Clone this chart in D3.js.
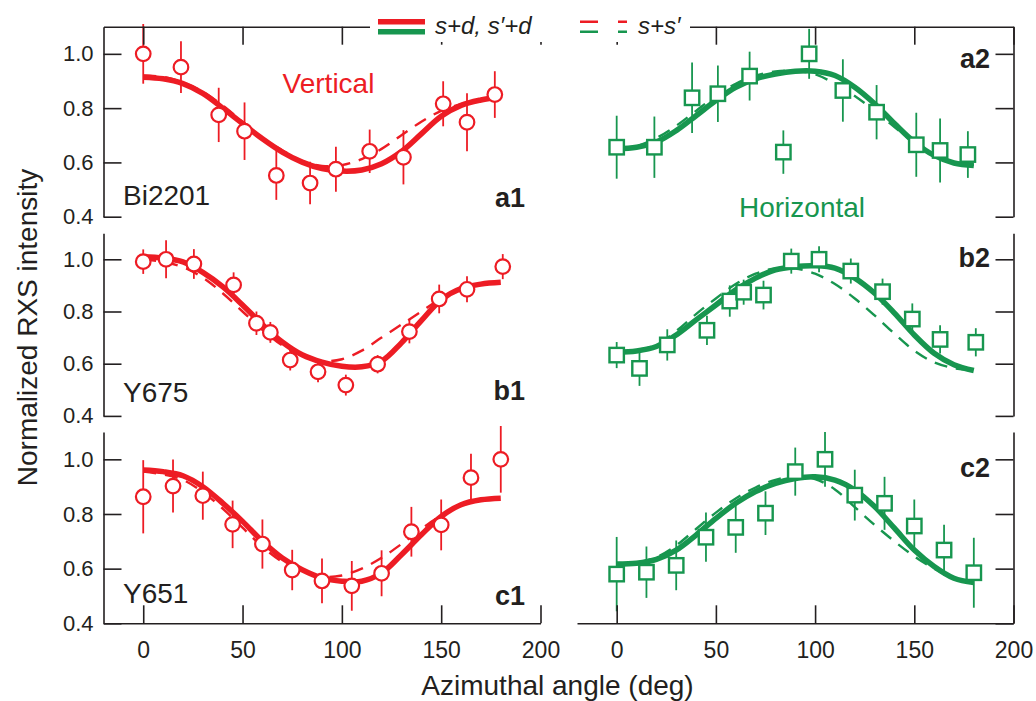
<!DOCTYPE html>
<html>
<head>
<meta charset="utf-8">
<script src="https://cdn.jsdelivr.net/npm/d3@7"></script>
<style>
  body { margin: 0; background: #fff; }
  svg { font-family: "Liberation Sans", Arial, sans-serif; }
</style>
</head>
<body>
<div id="chart"></div>
<script>
const width = 1036, height = 701;
const red = "#ed1c24", green = "#17964f", ink = "#231f20";

// measured points (angle in deg, normalized intensity, error)
const aAngles = [0, 19, 38, 51, 67, 84, 97, 114, 131, 151, 163, 177];
const a1Vals = [1.00, 0.951, 0.775, 0.715, 0.552, 0.524, 0.575, 0.641, 0.619, 0.816, 0.748, 0.850];
const a1Errs = [0.11, 0.095, 0.10, 0.106, 0.09, 0.078, 0.083, 0.08, 0.10, 0.083, 0.107, 0.086];
const a2Vals = [0.656, 0.656, 0.838, 0.853, 0.918, 0.638, 1.00, 0.865, 0.785, 0.665, 0.644, 0.629];
const a2Errs = [0.116, 0.113, 0.13, 0.104, 0.09, 0.08, 0.092, 0.115, 0.10, 0.118, 0.118, 0.086];

const bAngles = [0, 11.5, 25.5, 45.5, 57, 64, 74, 88, 102, 118, 134, 149, 163, 181];
const b1Vals = [0.991, 1.00, 0.982, 0.902, 0.755, 0.72, 0.614, 0.569, 0.518, 0.598, 0.723, 0.848, 0.885, 0.972];
const b1Errs = [0.047, 0.073, 0.057, 0.048, 0.045, 0.04, 0.04, 0.04, 0.04, 0.035, 0.045, 0.055, 0.05, 0.048];
const b2Vals = [0.633, 0.582, 0.672, 0.728, 0.84, 0.874, 0.863, 0.993, 1.00, 0.955, 0.876, 0.771, 0.693, 0.682];
const b2Errs = [0.05, 0.067, 0.06, 0.056, 0.06, 0.048, 0.055, 0.048, 0.05, 0.048, 0.05, 0.06, 0.054, 0.054];

const cAngles = [0, 15, 30, 45, 60, 75, 90, 105, 120, 135, 150, 165, 180];
const c1Vals = [0.863, 0.902, 0.867, 0.762, 0.69, 0.595, 0.555, 0.537, 0.583, 0.735, 0.76, 0.933, 1.00];
const c1Errs = [0.134, 0.097, 0.088, 0.087, 0.09, 0.074, 0.082, 0.091, 0.084, 0.091, 0.093, 0.087, 0.122];
const c2Vals = [0.58, 0.587, 0.612, 0.715, 0.751, 0.803, 0.955, 1.00, 0.869, 0.839, 0.756, 0.668, 0.585];
const c2Errs = [0.136, 0.094, 0.091, 0.09, 0.093, 0.08, 0.088, 0.10, 0.093, 0.097, 0.097, 0.093, 0.128];

// fit curves (s+d solid, s+s' dashed), read every 10 deg
const fitAngles = [0, 10, 20, 30, 40, 50, 60, 70, 80, 90, 100, 110, 120, 130, 140, 150, 160, 170, 180];
const a1Solid = [0.914, 0.908, 0.89, 0.854, 0.80, 0.743, 0.687, 0.638, 0.601, 0.577, 0.568, 0.572, 0.595, 0.64, 0.705, 0.77, 0.81, 0.83, 0.842];
const a1Dash = [0.92, 0.915, 0.895, 0.86, 0.81, 0.75, 0.69, 0.645, 0.605, 0.587, 0.59, 0.612, 0.65, 0.70, 0.75, 0.79, 0.815, 0.83, 0.84];
const a2Solid = [0.65, 0.656, 0.675, 0.717, 0.772, 0.828, 0.877, 0.908, 0.926, 0.936, 0.936, 0.92, 0.877, 0.816, 0.743, 0.675, 0.626, 0.598, 0.589];
const a2Dash = [0.65, 0.66, 0.69, 0.735, 0.79, 0.845, 0.89, 0.92, 0.935, 0.937, 0.925, 0.89, 0.845, 0.79, 0.73, 0.672, 0.627, 0.60, 0.59];
const b1Solid = [1.01, 1.005, 0.99, 0.95, 0.895, 0.825, 0.75, 0.683, 0.634, 0.606, 0.59, 0.588, 0.61, 0.68, 0.765, 0.845, 0.888, 0.905, 0.912];
const b1Dash = [1.0, 0.99, 0.97, 0.93, 0.87, 0.80, 0.73, 0.67, 0.63, 0.61, 0.617, 0.65, 0.70, 0.75, 0.80, 0.85, 0.885, 0.905, 0.912];
const b2Solid = [0.644, 0.649, 0.666, 0.71, 0.768, 0.825, 0.883, 0.928, 0.96, 0.972, 0.975, 0.966, 0.928, 0.87, 0.794, 0.71, 0.64, 0.596, 0.574];
const b2Dash = [0.645, 0.652, 0.672, 0.725, 0.79, 0.85, 0.905, 0.945, 0.965, 0.965, 0.945, 0.905, 0.85, 0.785, 0.715, 0.65, 0.605, 0.583, 0.575];
const c1Solid = [0.961, 0.955, 0.94, 0.90, 0.84, 0.773, 0.70, 0.639, 0.596, 0.566, 0.554, 0.554, 0.584, 0.651, 0.724, 0.791, 0.834, 0.852, 0.858];
const c1Dash = [0.955, 0.945, 0.925, 0.88, 0.82, 0.75, 0.68, 0.625, 0.59, 0.57, 0.575, 0.60, 0.64, 0.69, 0.745, 0.795, 0.83, 0.85, 0.856];
const c2Solid = [0.617, 0.62, 0.634, 0.668, 0.723, 0.784, 0.839, 0.882, 0.912, 0.93, 0.936, 0.924, 0.888, 0.827, 0.748, 0.668, 0.608, 0.565, 0.549];
const c2Dash = [0.618, 0.622, 0.642, 0.685, 0.745, 0.805, 0.857, 0.897, 0.925, 0.938, 0.928, 0.89, 0.825, 0.76, 0.70, 0.645, 0.60, 0.565, 0.55];

const yTicks = [0.4, 0.6, 0.8, 1.0];
const xTicks = [0, 50, 100, 150, 200];
const sampleNames = ["Bi2201", "Y675", "Y651"];
const panelNames = [["a1", "a2"], ["b1", "b2"], ["c1", "c2"]];

const svg = d3.select("#chart")
    .append("svg")
    .attr("width", width)
    .attr("height", height);

const xLeft = d3.scaleLinear().domain([-20, 200]).range([103.5, 540.5]);
const xRight = d3.scaleLinear().domain([-20, 200]).range([577, 1013.5]);

// vertical extent of each row, plus label offsets
const rows = [
    { top: 26.7, bottom: 216.7, angles: aAngles, nameDy: -12, leftDy: -10, rightDy: 14.5,
      left: [a1Vals, a1Errs, a1Solid, a1Dash], right: [a2Vals, a2Errs, a2Solid, a2Dash] },
    { top: 233.2, bottom: 415.9, angles: bAngles, nameDy: -14, leftDy: -16, rightDy: 7.5,
      left: [b1Vals, b1Errs, b1Solid, b1Dash], right: [b2Vals, b2Errs, b2Solid, b2Dash] },
    { top: 432, bottom: 623.3, angles: cAngles, nameDy: -20.5, leftDy: -18.5, rightDy: 17.5,
      left: [c1Vals, c1Errs, c1Solid, c1Dash], right: [c2Vals, c2Errs, c2Solid, c2Dash] }
];

function styleAxis(g) {
    g.select(".domain").attr("stroke", ink).attr("stroke-width", 1.6);
    g.selectAll(".tick line").attr("stroke", ink).attr("stroke-width", 1.6);
    g.selectAll(".tick text").attr("fill", ink);
}

function drawSeries(x, y, angles, [vals, errs, solid, dashed], color, square) {
    const g = svg.append("g");
    const line = d3.line()
        .x((d, i) => x(fitAngles[i]))
        .y(d => y(d))
        .curve(d3.curveCatmullRom);

    // error bars
    g.selectAll("line.err")
        .data(vals)
        .enter()
        .append("line")
        .attr("x1", (d, i) => x(angles[i]))
        .attr("x2", (d, i) => x(angles[i]))
        .attr("y1", (d, i) => y(d - errs[i]))
        .attr("y2", (d, i) => y(d + errs[i]))
        .attr("stroke", color)
        .attr("stroke-width", 1.8);

    // fits
    g.append("path")
        .attr("d", line(dashed))
        .attr("fill", "none")
        .attr("stroke", color)
        .attr("stroke-width", 2.4)
        .attr("stroke-dasharray", "13,9");
    g.append("path")
        .attr("d", line(solid))
        .attr("fill", "none")
        .attr("stroke", color)
        .attr("stroke-width", 5.5);

    // markers
    if (square) {
        g.selectAll("rect")
            .data(vals)
            .enter()
            .append("rect")
            .attr("x", (d, i) => x(angles[i]) - 7.2)
            .attr("y", d => y(d) - 7.2)
            .attr("width", 14.4)
            .attr("height", 14.4)
            .attr("fill", "white")
            .attr("stroke", color)
            .attr("stroke-width", 2.4);
    } else {
        g.selectAll("circle")
            .data(vals)
            .enter()
            .append("circle")
            .attr("cx", (d, i) => x(angles[i]))
            .attr("cy", d => y(d))
            .attr("r", 7.3)
            .attr("fill", "white")
            .attr("stroke", color)
            .attr("stroke-width", 2.2);
    }
}

rows.forEach((row, r) => {
    const y = d3.scaleLinear().domain([0.4, 1.1]).range([row.bottom, row.top]);

    // left y axis with labels
    svg.append("g")
        .attr("transform", `translate(${xLeft(-20)},0)`)
        .call(d3.axisLeft(y).tickValues(yTicks).tickSizeInner(-18).tickSizeOuter(0)
            .tickPadding(10).tickFormat(d3.format(".1f")))
        .attr("font-size", 22)
        .attr("font-family", null)
        .call(styleAxis);

    // right y axis, ticks only
    svg.append("g")
        .attr("transform", `translate(${xRight(200)},0)`)
        .call(d3.axisRight(y).tickValues(yTicks).tickSizeInner(-18).tickSizeOuter(0).tickFormat(""))
        .call(styleAxis);

    drawSeries(xLeft, y, row.angles, row.left, red, false);
    drawSeries(xRight, y, row.angles, row.right, green, true);

    // sample name and panel labels
    svg.append("text")
        .attr("x", 123)
        .attr("y", y(0.4) + row.nameDy)
        .attr("font-size", 28)
        .attr("fill", ink)
        .text(sampleNames[r]);
    svg.append("text")
        .attr("x", 525)
        .attr("y", y(0.4) + row.leftDy)
        .attr("text-anchor", "end")
        .attr("font-size", 27)
        .attr("font-weight", "bold")
        .attr("fill", ink)
        .text(panelNames[r][0]);
    svg.append("text")
        .attr("x", 990)
        .attr("y", y(1.0) + row.rightDy)
        .attr("text-anchor", "end")
        .attr("font-size", 27)
        .attr("font-weight", "bold")
        .attr("fill", ink)
        .text(panelNames[r][1]);

    // top axes on the first row
    if (r === 0) {
        [xLeft, xRight].forEach(x => {
            svg.append("g")
                .attr("transform", `translate(0,${row.top})`)
                .call(d3.axisTop(x).tickValues(xTicks).tickSizeInner(-18).tickSizeOuter(0).tickFormat(""))
                .call(styleAxis);
        });
        svg.append("text")
            .attr("x", 328.5)
            .attr("y", 93)
            .attr("text-anchor", "middle")
            .attr("font-size", 28)
            .attr("fill", red)
            .text("Vertical");
        svg.append("text")
            .attr("x", 802)
            .attr("y", 216.5)
            .attr("text-anchor", "middle")
            .attr("font-size", 28)
            .attr("fill", green)
            .text("Horizontal");
    }

    // bottom axes on the last row
    if (r === rows.length - 1) {
        [xLeft, xRight].forEach(x => {
            svg.append("g")
                .attr("transform", `translate(0,${row.bottom})`)
                .call(d3.axisBottom(x).tickValues(xTicks).tickSizeInner(-18).tickSizeOuter(0).tickPadding(18))
                .attr("font-size", 23)
                .attr("font-family", null)
                .call(styleAxis);
        });
    }
});

// axis titles
svg.append("text")
    .attr("x", 557.5)
    .attr("y", 695)
    .attr("text-anchor", "middle")
    .attr("font-size", 28)
    .attr("fill", ink)
    .text("Azimuthal angle (deg)");
svg.append("text")
    .attr("transform", "translate(36.5,327.5) rotate(-90)")
    .attr("text-anchor", "middle")
    .attr("font-size", 28)
    .attr("fill", ink)
    .text("Normalized RXS intensity");

// legend
const legend = svg.append("g");
legend.append("rect")
    .attr("x", 370).attr("y", 0)
    .attr("width", 320).attr("height", 42)
    .attr("fill", "white");
[[red, 21.7], [green, 31.7]].forEach(([c, ly]) => {
    legend.append("line")
        .attr("x1", 378).attr("x2", 425)
        .attr("y1", ly).attr("y2", ly)
        .attr("stroke", c).attr("stroke-width", 5.5);
    legend.append("line")
        .attr("x1", 580).attr("x2", 627)
        .attr("y1", ly).attr("y2", ly)
        .attr("stroke", c).attr("stroke-width", 2.4)
        .attr("stroke-dasharray", "18,20");
});
legend.append("text")
    .attr("x", 435).attr("y", 33.5)
    .attr("font-size", 24)
    .attr("font-style", "italic")
    .attr("fill", ink)
    .text("s+d, s\u2032+d");
legend.append("text")
    .attr("x", 638).attr("y", 33.5)
    .attr("font-size", 24)
    .attr("font-style", "italic")
    .attr("fill", ink)
    .text("s+s\u2032");
</script>
</body>
</html>
